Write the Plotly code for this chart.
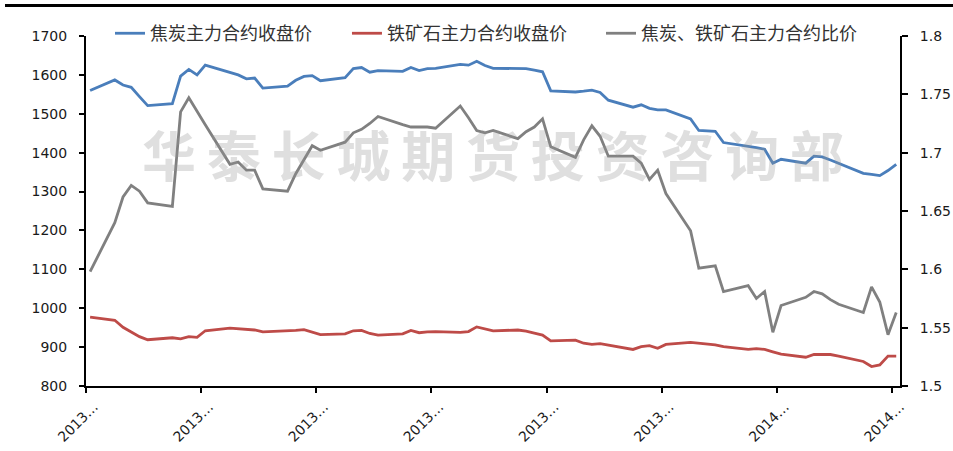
import plotly.graph_objects as go

# ---------------- data ----------------
dates = [
    "2013-10-18",
    "2013-10-21", "2013-10-22", "2013-10-23", "2013-10-24", "2013-10-25",
    "2013-10-28", "2013-10-29", "2013-10-30", "2013-10-31", "2013-11-01",
    "2013-11-04", "2013-11-05", "2013-11-06", "2013-11-07", "2013-11-08",
    "2013-11-11", "2013-11-12", "2013-11-13", "2013-11-14", "2013-11-15",
    "2013-11-18", "2013-11-19", "2013-11-20", "2013-11-21", "2013-11-22",
    "2013-11-25", "2013-11-26", "2013-11-27", "2013-11-28", "2013-11-29",
    "2013-12-02", "2013-12-03", "2013-12-04", "2013-12-05", "2013-12-06",
    "2013-12-09", "2013-12-10", "2013-12-11", "2013-12-12", "2013-12-13",
    "2013-12-16", "2013-12-17", "2013-12-18", "2013-12-19", "2013-12-20",
    "2013-12-23", "2013-12-24", "2013-12-25", "2013-12-26", "2013-12-27",
    "2013-12-30", "2013-12-31", "2014-01-02", "2014-01-03",
    "2014-01-06", "2014-01-07", "2014-01-08", "2014-01-09", "2014-01-10",
    "2014-01-13", "2014-01-14", "2014-01-15", "2014-01-16", "2014-01-17",
    "2014-01-20", "2014-01-21", "2014-01-22", "2014-01-23", "2014-01-24",
]

coke_close = [
    1560,
    1587, 1574, 1568, 1544, 1521,
    1526, 1597, 1614, 1600, 1625,
    1606, 1600, 1590, 1592, 1566,
    1571, 1586, 1596, 1598, 1585,
    1593, 1616, 1619, 1607, 1611,
    1609, 1619, 1611, 1616, 1617,
    1627, 1625, 1635, 1624, 1617,
    1616, 1616, 1612, 1608, 1559,
    1556, 1558, 1561, 1555, 1535,
    1517, 1523, 1514, 1510, 1510,
    1487, 1457, 1455, 1426,
    1417, 1413, 1409, 1373, 1383,
    1373, 1391, 1389, 1381, 1372,
    1347, 1344, 1341, 1354, 1370,
]

ore_close = [
    977,
    969, 951, 940, 927, 919,
    924, 921, 927, 925, 942,
    949, 947, 945, 944, 939,
    941, 943, 945, 939, 932,
    934, 942, 943, 935, 931,
    934, 943, 937, 939, 940,
    938, 940, 952, 946, 942,
    944, 941, 936, 931, 916,
    918, 910, 907, 909, 905,
    894, 901, 904, 897, 907,
    912, 910, 906, 901,
    894, 896, 894, 888, 882,
    874, 881, 881, 881, 877,
    863, 850, 854, 877, 877,
]

ratio = [
    1.598,
    1.640, 1.662, 1.672, 1.667, 1.657,
    1.654, 1.735, 1.747, 1.736, 1.724,
    1.690, 1.692, 1.685, 1.685, 1.669,
    1.667, 1.682, 1.694, 1.706, 1.702,
    1.709, 1.717, 1.720, 1.725, 1.731,
    1.724, 1.722, 1.722, 1.722, 1.721,
    1.740, 1.730, 1.719, 1.717, 1.719,
    1.712, 1.718, 1.722, 1.729, 1.705,
    1.696, 1.711, 1.723, 1.714, 1.697,
    1.697, 1.691, 1.677, 1.685, 1.665,
    1.633, 1.601, 1.603, 1.581,
    1.586, 1.575, 1.581, 1.546, 1.569,
    1.576, 1.581, 1.579, 1.574, 1.570,
    1.563, 1.585, 1.572, 1.544, 1.563,
]

tick_dates = ["2013-10-18", "2013-11-01", "2013-11-15", "2013-11-29",
              "2013-12-13", "2013-12-27", "2014-01-10", "2014-01-24"]
tick_labels = ["2013…", "2013…", "2013…", "2013…",
               "2013…", "2013…", "2014…", "2014…"]

series_names = ["焦炭主力合约收盘价", "铁矿石主力合约收盘价", "焦炭、铁矿石主力合约比价"]
watermark = "华\u2009泰\u2009长\u2009城\u2009期\u2009货\u2009投\u2009资\u2009咨\u2009询\u2009部"

# ---------------- figure ----------------
DAY_MS = 86400000
fig = go.Figure()

fig.add_trace(go.Scatter(
    x=dates, y=coke_close, name=series_names[0], mode="lines",
    line=dict(color="#4A7EBB", width=2.8),
    xperiod=DAY_MS, xperiodalignment="middle",
    legend="legend",
))
fig.add_trace(go.Scatter(
    x=dates, y=ore_close, name=series_names[1], mode="lines",
    line=dict(color="#BE4B48", width=2.8),
    xperiod=DAY_MS, xperiodalignment="middle",
    legend="legend2",
))
fig.add_trace(go.Scatter(
    x=dates, y=ratio, name=series_names[2], mode="lines", yaxis="y2",
    line=dict(color="#808080", width=2.8),
    xperiod=DAY_MS, xperiodalignment="middle",
    legend="legend3",
))

tick_font = dict(family="DejaVu Sans", size=14, color="#1a1a1a")
legend_font = dict(family="Noto Sans CJK SC", size=18, color="#333333")

def legend_at(xp):
    return dict(
        x=xp, y=1.007, xanchor="left", yanchor="middle",
        orientation="h", bgcolor="rgba(0,0,0,0)", borderwidth=0,
        font=legend_font,
    )

fig.update_layout(
    width=953, height=451,
    margin=dict(l=86, r=53, t=36, b=65, pad=0, autoexpand=False),
    paper_bgcolor="white", plot_bgcolor="white",
    showlegend=True,
    legend=legend_at(0.0295),
    legend2=legend_at(0.3206),
    legend3=legend_at(0.6327),
    xaxis=dict(
        type="date", automargin=False,
        range=["2013-10-18", "2014-01-24 23:00"],
        tickmode="array", tickvals=tick_dates, ticktext=tick_labels,
        tickangle=-45, tickfont=tick_font,
        ticks="outside", ticklen=5, tickwidth=2, tickcolor="black",
        showline=True, linecolor="black", linewidth=2,
        showgrid=False, zeroline=False,
        ticklabelshift=8,
    ),
    yaxis=dict(
        range=[800, 1700], dtick=100, tick0=800, automargin=False,
        tickfont=tick_font,
        ticks="outside", ticklen=5, tickwidth=2, tickcolor="black",
        showline=True, linecolor="black", linewidth=2,
        showgrid=False, zeroline=False,
        ticklabelstandoff=9,
    ),
    yaxis2=dict(
        range=[1.5, 1.8], dtick=0.05, tick0=1.5, automargin=False,
        overlaying="y", side="right",
        tickfont=tick_font,
        ticks="outside", ticklen=6, tickwidth=2, tickcolor="black",
        showline=True, linecolor="black", linewidth=2,
        showgrid=False, zeroline=False,
        ticklabelstandoff=9,
    ),
    shapes=[dict(
        type="line", xref="paper", yref="paper",
        x0=-0.0995, x1=1.066, y0=1.0871, y1=1.0871,
        line=dict(color="black", width=3),
    )],
    annotations=[dict(
        text=watermark, xref="paper", yref="paper",
        x=0.5006, y=0.664, xanchor="center", yanchor="middle",
        showarrow=False,
        font=dict(family="Noto Sans CJK SC", size=54, weight=700,
                  color="rgba(150,150,150,0.30)"),
    )],
)

fig.write_html(
    "out.html",
    config={"displayModeBar": False},
    post_script="document.body.style.margin='0';document.body.style.padding='0';",
)
